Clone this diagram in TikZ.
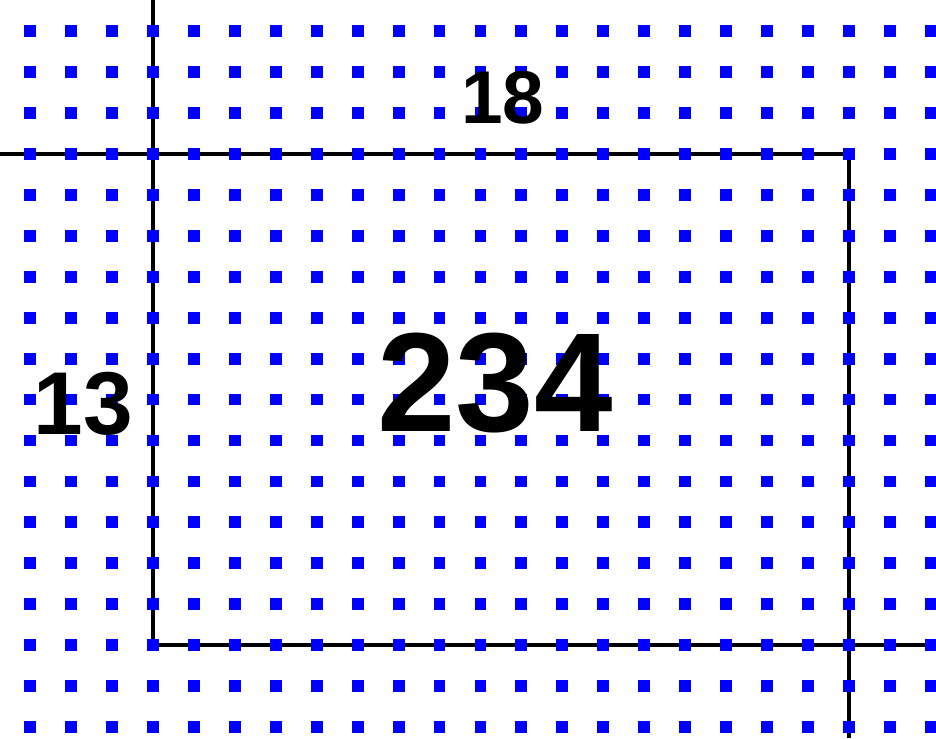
\documentclass[tikz,border=0pt]{standalone}
\usepackage{fontspec}
\setmainfont{Liberation Sans}
\usepackage{xcolor}
\definecolor{dotblue}{RGB}{0,0,255}
\usetikzlibrary{positioning}

\begin{document}
\begin{tikzpicture}[
        gridline/.style={line width=2.8pt, black},
        dot/.style={rectangle, fill=dotblue, inner sep=0pt, minimum size=0.29cm},
        hand/.style={font=\bfseries, text=black, inner sep=0pt}
      ]
        \useasboundingbox (-0.733, 0.757) rectangle (22.124, -17.265);

        % Corner points of the lines
        \coordinate (tl) at (3, 0.757);
        \coordinate (ml) at (-0.733, -3);
        \coordinate (cA) at (3, -3);
        \coordinate (cB) at (20, -3);
        \coordinate (cC) at (3, -15);
        \coordinate (cD) at (20, -15);
        \coordinate (br) at (20, -17.265);
        \coordinate (mr) at (22.124, -15);

        % Black lines
        \draw[gridline] (tl) -- (cC);
        \draw[gridline] (ml) -- (cB);
        \draw[gridline] (cB) -- (br);
        \draw[gridline] (cC) -- (mr);

        % Blue dot grid
        \foreach \i in {0,...,22}
          \foreach \j in {0,...,17}
            \node[dot] (d-\i-\j) at (\i, -\j) {};

        % Handwritten numbers
        \node[hand, font=\fontsize{52}{52}\bfseries\selectfont] (top) at (11.55, -1.62) {18};
        \node[hand, font=\fontsize{62}{62}\bfseries\selectfont] (left) at (1.3, -9.1) {13};
        \node[hand, font=\fontsize{98}{98}\bfseries\selectfont] (area) at (11.36, -8.6) {234};
      \end{tikzpicture}
\end{document}
